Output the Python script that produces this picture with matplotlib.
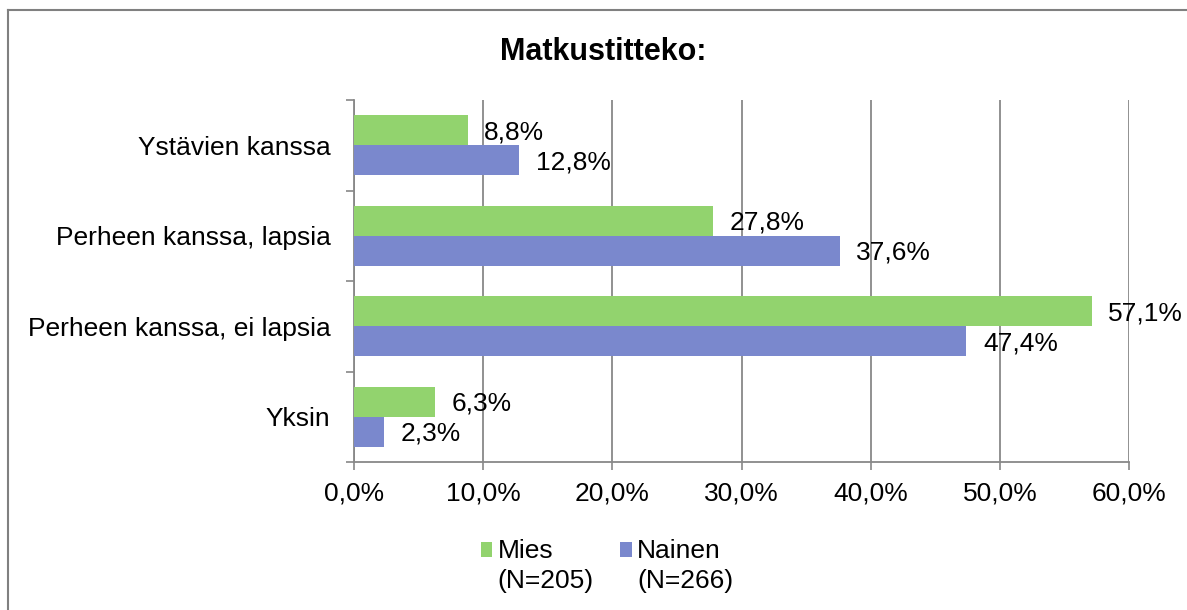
import numpy as np
import matplotlib.pyplot as plt
from matplotlib.lines import Line2D
from matplotlib.ticker import FuncFormatter, FixedLocator

plt.rcParams['font.family'] = ['Liberation Sans', 'DejaVu Sans']

categories = ["Ystävien kanssa", "Perheen kanssa, lapsia", "Perheen kanssa, ei lapsia", "Yksin"]
mies = [8.8, 27.8, 57.1, 6.3]
nainen = [12.8, 37.6, 47.4, 2.3]
series_names = ["Mies\n(N=205)", "Nainen\n(N=266)"]
green = "#92D36E"
blue = "#7A88CD"
fs = 19

fig = plt.figure(figsize=(11.87, 6.10), dpi=100)
ax = fig.add_axes([354/1187, 1-462/610, (1129-354)/1187, (462-100)/610])

y = np.arange(len(categories))
h = 0.333
ax.barh(y - h/2, mies, height=h, color=green, label=series_names[0], zorder=3)
ax.barh(y + h/2, nainen, height=h, color=blue, label=series_names[1], zorder=3)

for yi, v in zip(y, mies):
    ax.annotate(f"{v:.1f}%".replace(".", ","), (v, yi - h/2), xytext=(12, -1.5), textcoords="offset points",
                va="center", ha="left", fontsize=fs, zorder=4)
for yi, v in zip(y, nainen):
    ax.annotate(f"{v:.1f}%".replace(".", ","), (v, yi + h/2), xytext=(12, -1.5), textcoords="offset points",
                va="center", ha="left", fontsize=fs, zorder=4)

ax.set_xlim(0, 60)
ax.set_ylim(len(categories) - 0.5, -0.5)
ax.set_xticks(np.arange(0, 61, 10))
ax.xaxis.set_major_formatter(FuncFormatter(lambda x, p: f"{x:.1f}%".replace(".", ",")))
ax.set_yticks(y)
ax.set_yticklabels(categories)
ax.yaxis.set_minor_locator(FixedLocator(np.arange(-0.5, len(categories), 1)))
ax.tick_params(axis="y", which="major", length=0, pad=17, labelsize=fs)
ax.tick_params(axis="y", which="minor", length=6, color="#888888", width=1.2, direction="out")
ax.tick_params(axis="x", length=6, color="#888888", width=1.2, direction="out", labelsize=fs, pad=8)

ax.grid(axis="x", color="#888888", linewidth=1.3, zorder=0)
for s in ["top", "right"]:
    ax.spines[s].set_visible(False)
for s in ["left", "bottom"]:
    ax.spines[s].set_color("#888888")
    ax.spines[s].set_linewidth(1.3)

fig.text(603/1187, 1-52/610, "Matkustitteko:", ha="center", va="center", fontsize=22, fontweight="bold")

leg = fig.legend(loc="center", bbox_to_anchor=(607/1187, 1-566/610), ncol=2, frameon=False,
                 fontsize=fs, handlelength=0.45, handleheight=0.45, handletextpad=0.2,
                 columnspacing=1.0)
for t in leg.get_texts():
    t.set_linespacing(1.35)
# squares sit beside the first text line, as in the original
for p in leg.legend_handles:
    p.set_y(p.get_y() + 12)

fig.add_artist(Line2D([8/1187, 8/1187], [0, 1-10/610], color="#808080", linewidth=1.5))
fig.add_artist(Line2D([8/1187, 1], [1-10/610, 1-10/610], color="#808080", linewidth=1.5))

fig.savefig("out.png", dpi=100)
